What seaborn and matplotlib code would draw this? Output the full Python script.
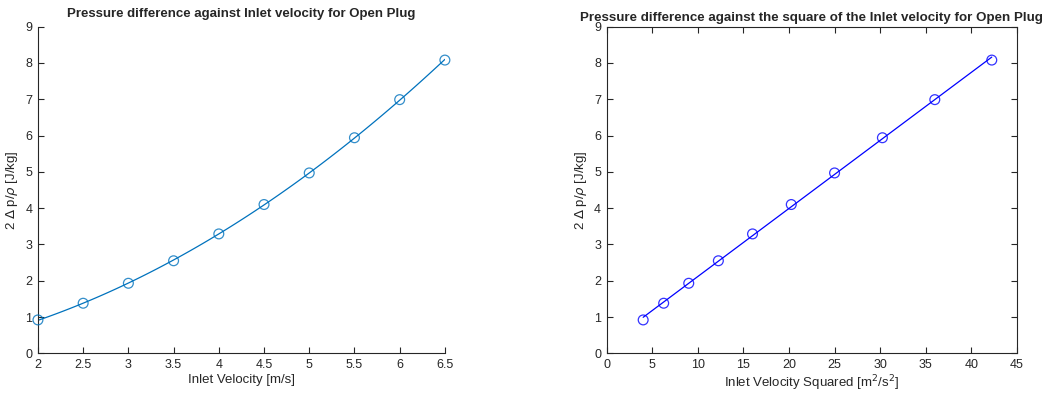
import numpy as np
import pandas as pd
import matplotlib
matplotlib.use("Agg")
import matplotlib.pyplot as plt
import seaborn as sns

# Measured inlet velocity and pressure difference (2*dp/rho)
inlet_velocity = [2.0, 2.5, 3.0, 3.5, 4.0, 4.5, 5.0, 5.5, 6.0, 6.5]
pressure_term = [0.92, 1.38, 1.93, 2.55, 3.29, 4.10, 4.97, 5.94, 6.99, 8.08]

df = pd.DataFrame({"v": inlet_velocity, "dp": pressure_term})
df["v2"] = df["v"] ** 2

sns.set_theme(style="white")
plt.rcParams["font.family"] = ["Liberation Sans", "DejaVu Sans"]
plt.rcParams["mathtext.fontset"] = "dejavusans"

fig = plt.figure(figsize=(10.57, 3.96), dpi=100)
ax1 = fig.add_axes([0.0359, 0.1078, 0.385, 0.8248])
ax2 = fig.add_axes([0.574, 0.1078, 0.388, 0.8248])

c1 = "#0072BD"
c2 = "#0000FF"
axcol = "#262626"

sns.regplot(data=df, x="v", y="dp", order=2, ci=None, ax=ax1, color=c1,
            marker="o", truncate=True,
            scatter_kws=dict(s=50, facecolors="none", edgecolors=c1, linewidths=0.9,
                             clip_on=False, zorder=3),
            line_kws=dict(linewidth=0.9))
sns.regplot(data=df, x="v2", y="dp", order=1, ci=None, ax=ax2, color=c2,
            marker="o", truncate=True,
            scatter_kws=dict(s=50, facecolors="none", edgecolors=c2, linewidths=0.9,
                             clip_on=False, zorder=3),
            line_kws=dict(linewidth=0.9))

ylabel = r"2 $\Delta$ p/$\rho$ [J/kg]"

ax1.set_xlim(2, 6.5)
ax1.set_ylim(0, 9)
ax1.set_xticks([2, 2.5, 3, 3.5, 4, 4.5, 5, 5.5, 6, 6.5])
ax1.set_xticklabels(["2", "2.5", "3", "3.5", "4", "4.5", "5", "5.5", "6", "6.5"])
ax1.set_yticks(range(0, 10))
ax1.set_xlabel("Inlet Velocity [m/s]", fontsize=9.5, color=axcol, labelpad=2)
ax1.set_ylabel(ylabel, fontsize=9.5, color=axcol, labelpad=4)
ax1.set_title("Pressure difference against Inlet velocity for Open Plug",
              fontsize=9.5, fontweight="bold", pad=7)
for s in ["top", "right"]:
    ax1.spines[s].set_visible(False)
for s in ["left", "bottom"]:
    ax1.spines[s].set_color(axcol)
    ax1.spines[s].set_linewidth(0.8)
ax1.tick_params(direction="in", length=4.5, width=0.8, colors=axcol,
                labelsize=9, bottom=True, left=True, pad=4)

ax2.set_xlim(0, 45)
ax2.set_ylim(0, 9)
ax2.set_xticks(range(0, 46, 5))
ax2.set_yticks(range(0, 10))
ax2.set_xlabel(r"Inlet Velocity Squared [m$^2$/s$^2$]", fontsize=9.5, color=axcol, labelpad=2)
ax2.set_ylabel(ylabel, fontsize=9.5, color=axcol, labelpad=4)
ax2.set_title("Pressure difference against the square of the Inlet velocity for Open Plug",
              fontsize=9.6, fontweight="bold", pad=4)
for s in ["top", "right", "left", "bottom"]:
    ax2.spines[s].set_visible(True)
    ax2.spines[s].set_color(axcol)
    ax2.spines[s].set_linewidth(0.8)
ax2.tick_params(direction="in", length=4.5, width=0.8, colors=axcol,
                labelsize=9, bottom=True, left=True, top=True, right=True, pad=4)

fig.savefig("out.png", dpi=100, facecolor="white")
